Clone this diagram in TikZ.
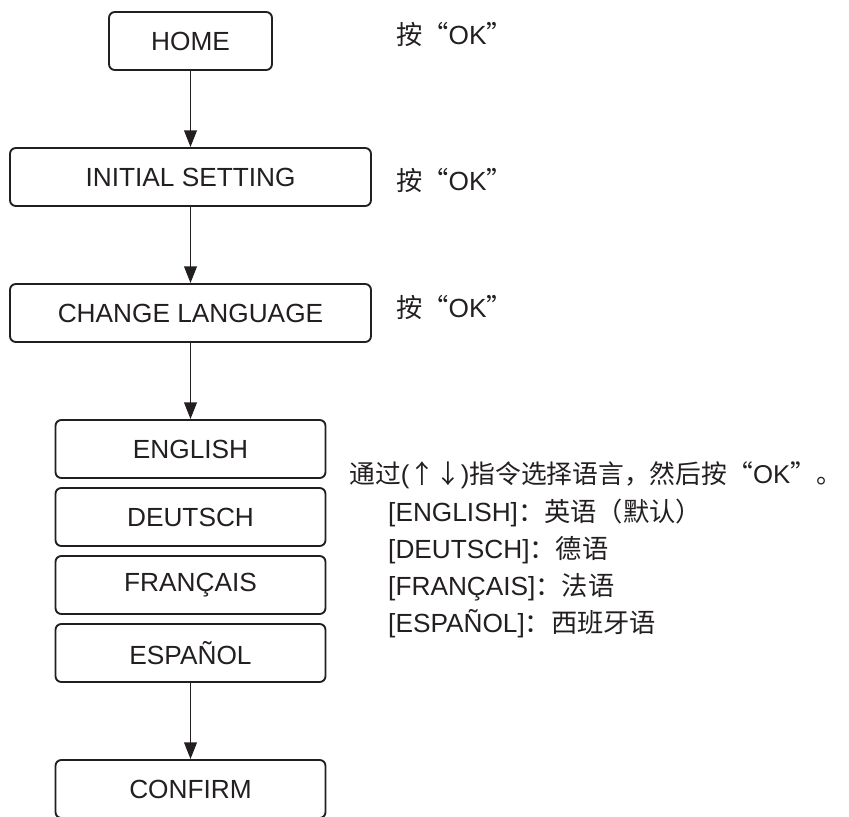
\documentclass[tikz,border=0pt]{standalone}
\usepackage{fontspec}
\setmainfont{Liberation Sans}
\newfontfamily\cjk{Noto Sans CJK SC}
\usetikzlibrary{arrows.meta}
\definecolor{LangInk}{RGB}{35,31,32}
\tikzset{
  lang/box/.style={
    draw=LangInk,
    line width=1.6pt,
    rounded corners=5pt,
    fill=white,
    align=center,
    text=LangInk,
    minimum height=1.74cm,
    inner sep=0pt,
    font=\fontsize{22.4}{26}\selectfont
  },
  lang/arrow/.style={-{Triangle[length=0.5cm,width=0.38cm]}, line width=1.5pt, draw=LangInk},
  lang/note/.style={anchor=base west, inner sep=0pt, text=LangInk, font=\fontsize{22.4}{26}\selectfont}
}

\begin{document}
\begin{tikzpicture}[x=0.03cm,y=-0.03cm]
  \useasboundingbox (0,0) rectangle (849,816);
  \foreach \name/\txt/\w/\y in {
    home/HOME/4.89/41,initial/INITIAL SETTING/10.83/177,change/CHANGE LANGUAGE/10.83/313,
    english/ENGLISH/8.1/449,deutsch/DEUTSCH/8.1/517,francais/FRANÇAIS/8.1/585,
    espanol/ESPAÑOL/8.1/653,confirm/CONFIRM/8.1/789}
  {\node[lang/box,minimum width=\w cm] (\name) at (190.5,\y) {\txt};}
  \foreach \a/\b in {home/initial,initial/change,change/english,espanol/confirm}
  {\draw[lang/arrow] (\a) -- (\b);}
  % press OK hints
  \node[lang/note] (okhome) at (396,45) {{\cjk 按“}OK{\cjk ”}};
  \node[lang/note] (okinitial) at (396,190) {{\cjk 按“}OK{\cjk ”}};
  \node[lang/note] (okchange) at (396,317) {{\cjk 按“}OK{\cjk ”}};
  % language list
  \node[lang/note,font=\fontsize{22}{26}\selectfont] (select) at (349,483) {{\cjk 通过}({\cjk ↑↓}){\cjk 指令选择语言，然后按“}OK{\cjk ”。}};
  \node[lang/note] (laen) at (388,521) {[ENGLISH]{\cjk ：英语（默认）}};
  \node[lang/note] (lade) at (388,558) {[DEUTSCH]{\cjk ：德语}};
  \node[lang/note] (lafr) at (388,595) {[FRANÇAIS]{\cjk ：法语}};
  \node[lang/note] (laes) at (388,632) {[ESPAÑOL]{\cjk ：西班牙语}};
\end{tikzpicture}
\end{document}
